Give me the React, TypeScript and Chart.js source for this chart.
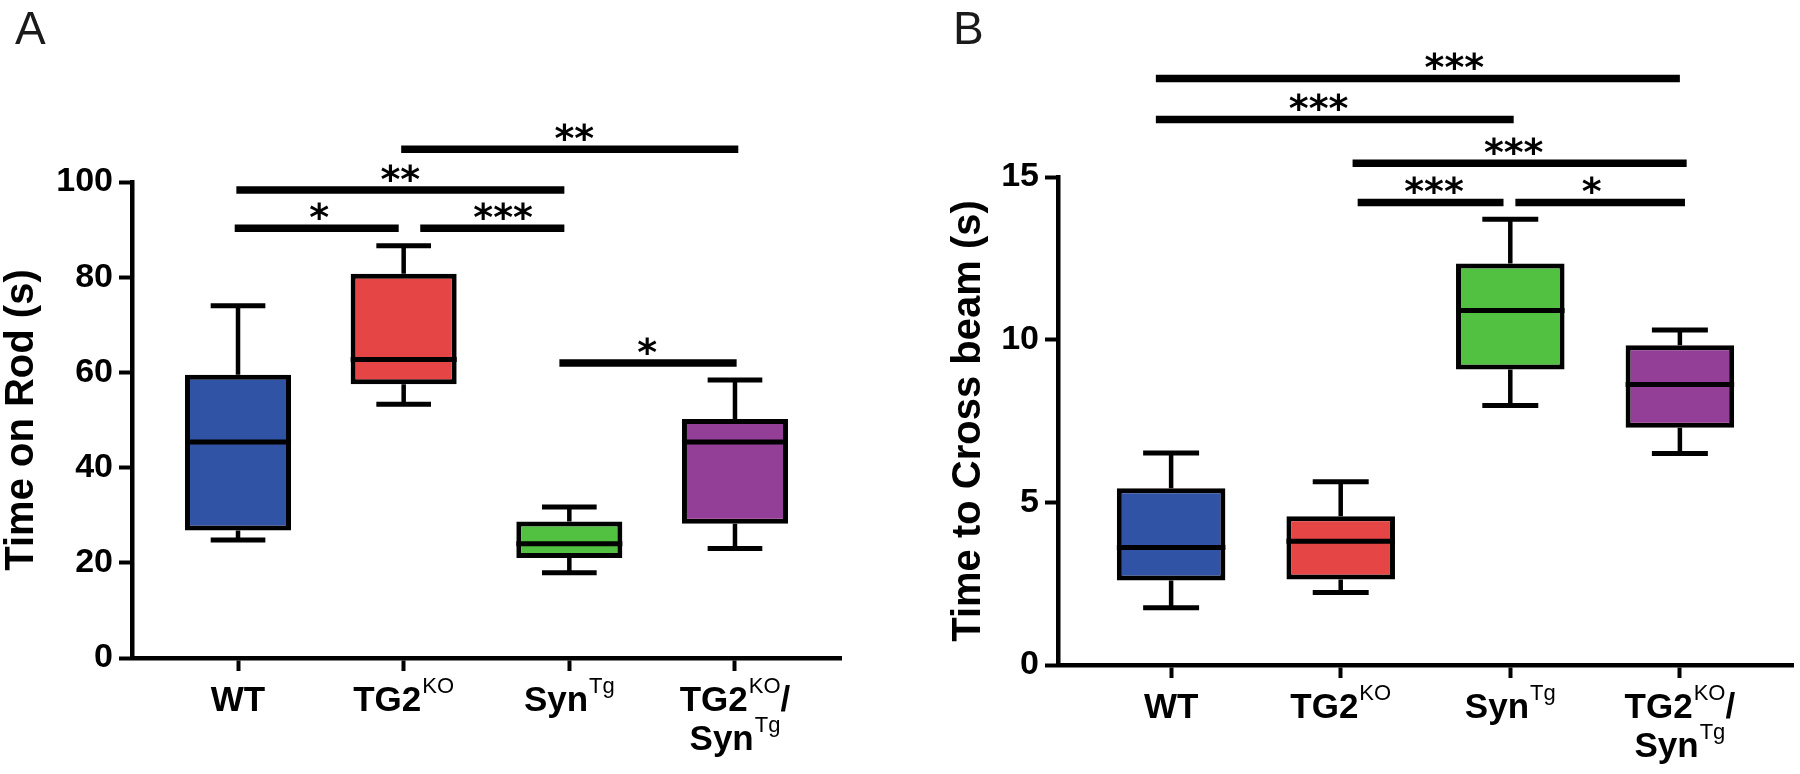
import React, { useEffect, useRef } from 'react';
import { Chart, registerables } from 'chart.js';

Chart.register(...registerables);

// ---------- shared ----------
const groups = ['WT', 'TG2KO', 'SynTg', 'TG2KO/SynTg'];
const groupColors = ['#3153A5', '#E64545', '#52C141', '#933E97'];

type Seg = { t: string; sup?: boolean };
const xLabelLines: Seg[][][] = [
  [[{ t: 'WT' }]],
  [[{ t: 'TG2' }, { t: 'KO', sup: true }]],
  [[{ t: 'Syn' }, { t: 'Tg', sup: true }]],
  [[{ t: 'TG2' }, { t: 'KO', sup: true }, { t: '/' }], [{ t: 'Syn' }, { t: 'Tg', sup: true }]],
];

// ---------- Panel A: Time on Rod ----------
const rodMin = [24.8, 53.3, 17.9, 23.0];
const rodQ1 = [26.8, 57.5, 21.0, 28.2];
const rodMedian = [45.4, 62.7, 24.0, 45.4];
const rodQ3 = [59.5, 80.7, 28.7, 50.2];
const rodMax = [74.0, 86.6, 31.7, 58.4];
const rodTicks = { max: 100, step: 20 };
const rodSigFrom = [0.985, -0.01, -0.02, 1.1, 1.94];
const rodSigTo = [3.02, 1.97, 0.97, 1.97, 3.01];
const rodSigY = [106.9, 98.3, 90.3, 90.3, 62.0];
const rodSigLabel = ['**', '**', '*', '***', '*'];
const rodSigTextX = [2.03, 0.98, 0.49, 1.6, 2.47];

// ---------- Panel B: Time to Cross beam ----------
const beamMin = [1.76, 2.23, 7.98, 6.5];
const beamQ1 = [2.6, 2.63, 9.08, 7.29];
const beamMedian = [3.61, 3.8, 10.9, 8.62];
const beamQ3 = [5.43, 4.57, 12.34, 9.83];
const beamMax = [6.52, 5.63, 13.7, 10.3];
const beamTicks = { max: 15, step: 5 };
const beamSigFrom = [-0.09, -0.09, 1.07, 1.1, 2.03];
const beamSigTo = [3.0, 2.02, 3.04, 1.96, 3.03];
const beamSigY = [18.03, 16.77, 15.42, 14.22, 14.22];
const beamSigLabel = ['***', '***', '***', '***', '*'];
const beamSigTextX = [1.67, 0.87, 2.02, 1.55, 2.48];

const SANS = '"Liberation Sans", Arial, Helvetica, sans-serif';

type Panel = {
  letter: string;
  title: string;
  canvasLeft: number;
  width: number;
  height: number;
  left: number;
  right: number;
  top: number;
  bottom: number;
  xMin: number;
  xMax: number;
  titleX: number;
  letterX: number;
  min: number[];
  q1: number[];
  median: number[];
  q3: number[];
  max: number[];
  yMax: number;
  yStep: number;
  sigFrom: number[];
  sigTo: number[];
  sigY: number[];
  sigLabel: string[];
  sigTextX: number[];
};

const panelA: Panel = {
  letter: 'A',
  title: 'Time on Rod (s)',
  canvasLeft: 0,
  width: 900,
  height: 774,
  left: 132,
  right: 841,
  top: 182,
  bottom: 658,
  xMin: -0.64,
  xMax: 3.64,
  titleX: 33,
  letterX: 15,
  min: rodMin,
  q1: rodQ1,
  median: rodMedian,
  q3: rodQ3,
  max: rodMax,
  yMax: rodTicks.max,
  yStep: rodTicks.step,
  sigFrom: rodSigFrom,
  sigTo: rodSigTo,
  sigY: rodSigY,
  sigLabel: rodSigLabel,
  sigTextX: rodSigTextX,
};

const panelB: Panel = {
  letter: 'B',
  title: 'Time to Cross beam (s)',
  canvasLeft: 900,
  width: 900,
  height: 774,
  left: 158,
  right: 893,
  top: 177,
  bottom: 665,
  xMin: -0.667,
  xMax: 3.667,
  titleX: 80,
  letterX: 53,
  min: beamMin,
  q1: beamQ1,
  median: beamMedian,
  q3: beamQ3,
  max: beamMax,
  yMax: beamTicks.max,
  yStep: beamTicks.step,
  sigFrom: beamSigFrom,
  sigTo: beamSigTo,
  sigY: beamSigY,
  sigLabel: beamSigLabel,
  sigTextX: beamSigTextX,
};

function makeBoxPlugin(p: Panel) {
  return {
    id: 'boxExtras' + p.letter,
    beforeDatasetsDraw(chart: any) {
      const ctx = chart.ctx;
      const xs = chart.scales.x;
      const ys = chart.scales.y;
      ctx.save();
      ctx.strokeStyle = '#000';
      ctx.lineCap = 'butt';
      groups.forEach((_, i) => {
        const cx = xs.getPixelForValue(i);
        const capHalf = xs.getPixelForValue(i + 0.165) - cx;
        const yMax = ys.getPixelForValue(p.max[i]);
        const yMin = ys.getPixelForValue(p.min[i]);
        const yQ1 = ys.getPixelForValue(p.q1[i]);
        const yQ3 = ys.getPixelForValue(p.q3[i]);
        ctx.lineWidth = 4.5;
        ctx.beginPath();
        ctx.moveTo(cx, yQ3);
        ctx.lineTo(cx, yMax);
        ctx.moveTo(cx, yQ1);
        ctx.lineTo(cx, yMin);
        ctx.stroke();
        ctx.lineWidth = 5;
        ctx.beginPath();
        ctx.moveTo(cx - capHalf, yMax);
        ctx.lineTo(cx + capHalf, yMax);
        ctx.moveTo(cx - capHalf, yMin);
        ctx.lineTo(cx + capHalf, yMin);
        ctx.stroke();
      });
      ctx.restore();
    },
    afterDatasetsDraw(chart: any) {
      const ctx = chart.ctx;
      const ys = chart.scales.y;
      const meta = chart.getDatasetMeta(0);
      ctx.save();
      ctx.strokeStyle = '#000';
      ctx.lineWidth = 5;
      meta.data.forEach((bar: any, i: number) => {
        const props = bar.getProps(['x', 'width'], true);
        const y = ys.getPixelForValue(p.median[i]);
        ctx.beginPath();
        ctx.moveTo(props.x - props.width / 2, y);
        ctx.lineTo(props.x + props.width / 2, y);
        ctx.stroke();
      });
      ctx.restore();
    },
    afterDraw(chart: any) {
      const ctx = chart.ctx;
      const xs = chart.scales.x;
      const ys = chart.scales.y;
      ctx.save();
      // significance brackets
      ctx.strokeStyle = '#000';
      ctx.fillStyle = '#000';
      ctx.lineWidth = 7.5;
      ctx.lineCap = 'butt';
      ctx.font = 'bold 38px "DejaVu Sans", sans-serif';
      ctx.textAlign = 'center';
      ctx.textBaseline = 'alphabetic';
      p.sigY.forEach((v, k) => {
        const y = ys.getPixelForValue(v);
        ctx.beginPath();
        ctx.moveTo(xs.getPixelForValue(p.sigFrom[k]), y);
        ctx.lineTo(xs.getPixelForValue(p.sigTo[k]), y);
        ctx.stroke();
        const m = ctx.measureText(p.sigLabel[k]);
        const asc = m.actualBoundingBoxAscent;
        const desc = m.actualBoundingBoxDescent;
        const centerY = y - 17;
        ctx.fillText(p.sigLabel[k], xs.getPixelForValue(p.sigTextX[k]), centerY + (asc - desc) / 2);
      });

      // x category labels with superscripts
      const baseFont = `bold 35px ${SANS}`;
      const supFont = `22px ${SANS}`;
      const lineBase = [chart.chartArea.bottom + 53, chart.chartArea.bottom + 92];
      ctx.textAlign = 'left';
      xLabelLines.forEach((lines, i) => {
        const cx = xs.getPixelForValue(i);
        lines.forEach((segs, li) => {
          const widths = segs.map((s) => {
            ctx.font = s.sup ? supFont : baseFont;
            return ctx.measureText(s.t).width + (s.sup ? 1 : 0);
          });
          const total = widths.reduce((a, b) => a + b, 0);
          let x = cx - total / 2;
          segs.forEach((s, si) => {
            ctx.font = s.sup ? supFont : baseFont;
            const yb = lineBase[li] - (s.sup ? 18 : 0);
            ctx.fillText(s.t, x + (s.sup ? 1 : 0), yb);
            x += widths[si];
          });
        });
      });

      // y axis title
      ctx.font = `bold 40px ${SANS}`;
      ctx.textAlign = 'center';
      ctx.textBaseline = 'alphabetic';
      ctx.save();
      ctx.translate(p.titleX, (chart.chartArea.top + chart.chartArea.bottom) / 2);
      ctx.rotate(-Math.PI / 2);
      ctx.fillText(p.title, 0, 0);
      ctx.restore();

      // panel letter
      ctx.font = `46px ${SANS}`;
      ctx.textAlign = 'left';
      ctx.fillStyle = '#1a1a1a';
      ctx.fillText(p.letter, p.letterX, 44);
      ctx.restore();
    },
  };
}

function makeChart(canvas: HTMLCanvasElement, p: Panel) {
  const data = groups.map((_, i) => ({ x: i, y: [p.q1[i], p.q3[i]] }));
  return new Chart(canvas, {
    type: 'bar',
    data: {
      datasets: [
        {
          data: data as any,
          backgroundColor: groupColors,
          borderColor: '#000',
          borderWidth: 5,
          borderSkipped: false,
          barPercentage: 0.64,
          categoryPercentage: 1,
        },
      ],
    },
    options: {
      animation: false,
      responsive: false,
      devicePixelRatio: 1,
      layout: { padding: { top: p.top, right: p.width - p.right, bottom: 0, left: 0 } },
      plugins: { legend: { display: false }, tooltip: { enabled: false }, title: { display: false } },
      scales: {
        x: {
          type: 'linear',
          min: p.xMin,
          max: p.xMax,
          offset: false,
          afterBuildTicks: (s: any) => {
            s.ticks = groups.map((_, i) => ({ value: i }));
          },
          afterFit: (s: any) => {
            s.height = p.height - p.bottom;
          },
          ticks: { callback: () => '', autoSkip: false, maxRotation: 0 },
          grid: {
            drawOnChartArea: false,
            drawTicks: true,
            tickLength: 13,
            tickWidth: 4,
            tickColor: '#000',
            offset: false,
          },
          border: { display: true, color: '#000', width: 4.5 },
        },
        y: {
          min: 0,
          max: p.yMax,
          ticks: {
            stepSize: p.yStep,
            color: '#000',
            padding: 6,
            font: { family: SANS, size: 34, weight: 'bold' },
          },
          afterFit: (s: any) => {
            s.width = p.left;
          },
          grid: {
            drawOnChartArea: false,
            drawTicks: true,
            tickLength: 13,
            tickWidth: 4,
            tickColor: '#000',
          },
          border: { display: true, color: '#000', width: 4.5 },
        },
      },
    } as any,
    plugins: [makeBoxPlugin(p)],
  });
}

export default function App() {
  const refA = useRef<HTMLCanvasElement>(null);
  const refB = useRef<HTMLCanvasElement>(null);
  useEffect(() => {
    const a = makeChart(refA.current!, panelA);
    const b = makeChart(refB.current!, panelB);
    return () => {
      a.destroy();
      b.destroy();
    };
  }, []);
  return (
    <div style={{ position: 'fixed', left: 0, top: 0, width: 1800, height: 774, background: '#fff' }}>
      <canvas
        ref={refA}
        width={panelA.width}
        height={panelA.height}
        style={{ position: 'absolute', left: panelA.canvasLeft, top: 0, width: panelA.width, height: panelA.height }}
      />
      <canvas
        ref={refB}
        width={panelB.width}
        height={panelB.height}
        style={{ position: 'absolute', left: panelB.canvasLeft, top: 0, width: panelB.width, height: panelB.height }}
      />
    </div>
  );
}
